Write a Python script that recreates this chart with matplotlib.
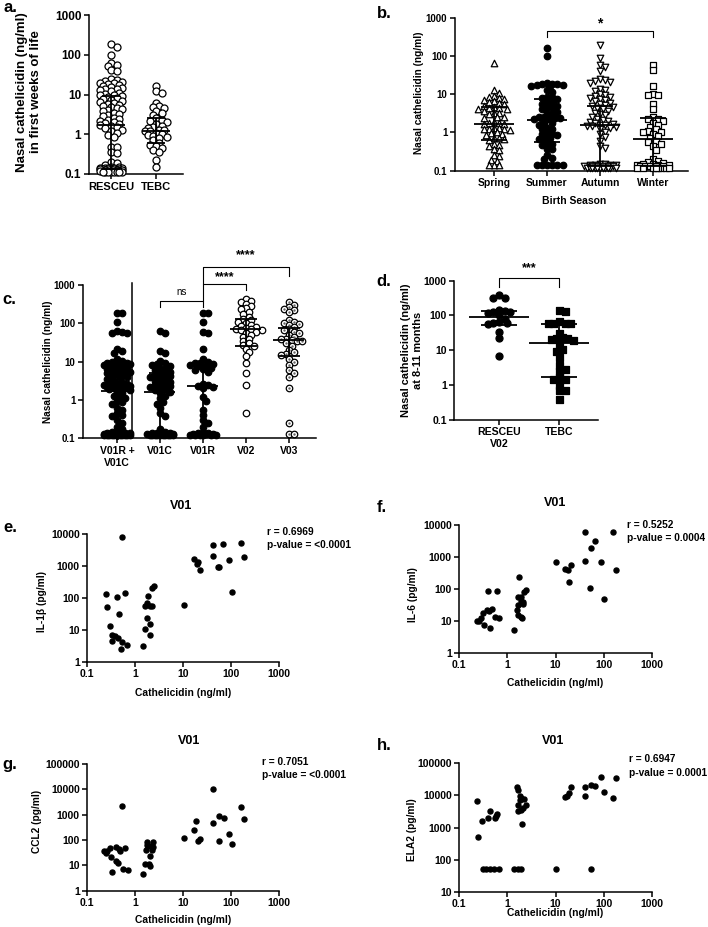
import matplotlib
matplotlib.use('Agg')
import matplotlib.pyplot as plt
from matplotlib.ticker import NullLocator
import numpy as np

plt.rcParams['font.family'] = ['Liberation Sans', 'DejaVu Sans']
plt.rcParams['font.weight'] = 'bold'
plt.rcParams['axes.linewidth'] = 1.1

# ---- data ----
# a. first weeks of life
a_groups = ['RESCEU', 'TEBC']
a_resceu = [183, 160, 100, 63, 55, 52, 41, 40,
            24, 23, 22, 21, 20, 19, 18, 17, 16, 15.5, 15, 14, 13.5, 13, 12, 11, 10.5, 10,
            9.5, 9, 8.5, 8, 7.5, 7.2, 7, 6.5, 6, 5.8, 5.5, 5, 4.8, 4.5, 4.2, 4, 3.8, 3.5,
            3.3, 3, 2.8, 2.6, 2.4, 2.3, 2.2, 2.0, 1.9, 1.8, 1.7, 1.6, 1.5, 1.4, 1.3, 1.2, 1.1,
            0.98, 0.87, 0.49, 0.48, 0.35, 0.34, 0.2, 0.19, 0.17,
            0.15, 0.15, 0.145, 0.14, 0.14, 0.14, 0.14, 0.135, 0.135, 0.13, 0.13, 0.13, 0.13,
            0.13, 0.125, 0.125, 0.125, 0.12, 0.12, 0.12, 0.12, 0.12, 0.12, 0.12, 0.115, 0.115,
            0.115, 0.115, 0.11, 0.11, 0.11, 0.11]
a_tebc = [16.5, 12.5, 11, 6, 5, 4.8, 4.5, 3.9, 3.5, 3.1, 2.5, 2.3, 2.1, 2.0, 1.8, 1.6, 1.5,
          1.4, 1.3, 1.25, 1.2, 1.2, 1.1, 1.0, 0.95, 0.9, 0.85, 0.8, 0.7, 0.6, 0.55, 0.5,
          0.45, 0.4, 0.35, 0.22, 0.15]
a_median = [1.74, 1.2]
a_q1 = [0.13, 0.6]
a_q3 = [9.0, 2.6]

# b. birth season
b_groups = ['Spring', 'Summer', 'Autumn', 'Winter']
spring = [64, 12.5, 11, 9.2, 8.6, 8.0, 7.4, 7.0, 6.5, 6.2, 5.8, 5.4, 5.0, 4.6, 4.4, 4.3, 4.2,
          4.0, 3.6, 3.3, 3.2, 3.0, 2.6, 2.5, 2.4, 1.9, 1.8, 1.8, 1.7, 1.65, 1.3, 1.3, 1.25,
          1.2, 1.2, 1.15, 1.0, 0.95, 0.9, 0.85, 0.7, 0.7, 0.68, 0.65, 0.5, 0.48, 0.45, 0.37,
          0.35, 0.25, 0.24, 0.19, 0.18, 0.14, 0.14, 0.14]
summer = [158, 100, 20, 19, 18.5, 18, 17.5, 17, 16.5, 16, 12.5, 11.5, 8.5, 8.2, 8.0, 7.5, 6.2,
          6.0, 5.6, 4.8, 4.5, 4.3, 4.0, 3.5, 3.3, 3.1, 2.6, 2.5, 2.45, 2.4, 2.35, 2.3, 2.25,
          2.2, 1.8, 1.7, 1.6, 1.3, 1.25, 1.2, 0.95, 0.92, 0.9, 0.85, 0.72, 0.7, 0.68, 0.53,
          0.5, 0.48, 0.38, 0.36, 0.26, 0.21, 0.2, 0.14, 0.14, 0.14, 0.14, 0.14, 0.14]
autumn = [193, 86, 58, 50, 41, 25, 23, 22, 21, 20, 14, 13, 12, 10, 9.5, 9, 8.5, 8, 7.5, 7, 6.5,
          6, 5.5, 5.2, 5, 4.7, 4.3, 4, 3.6, 3.3, 3, 2.8, 2.5, 2.3, 2.1, 2.0, 1.9, 1.8, 1.7,
          1.6, 1.55, 1.5, 1.45, 1.4, 1.3, 1.2, 1.0, 0.9, 0.75, 0.6, 0.45, 0.4, 0.15, 0.15,
          0.14, 0.14, 0.14, 0.14, 0.13, 0.13, 0.13, 0.13, 0.13, 0.13, 0.12, 0.12, 0.12, 0.12,
          0.12, 0.12, 0.12, 0.12, 0.12, 0.12, 0.12]
winter = [58, 42, 16, 10, 9.8, 9.5, 5.5, 4.0, 2.5, 2.3, 2.2, 2.0, 1.8, 1.6, 1.4, 1.2, 1.1,
          1.05, 1.0, 0.9, 0.8, 0.7, 0.6, 0.55, 0.5, 0.45, 0.35, 0.2, 0.18, 0.17, 0.16, 0.15,
          0.15, 0.14, 0.14, 0.14, 0.13, 0.13, 0.13, 0.13, 0.13, 0.13, 0.12, 0.12, 0.12, 0.12,
          0.12, 0.12, 0.12, 0.12]
b_median = [1.63, 2.1, 1.55, 0.66]
b_q1 = [0.65, 0.55, 0.13, 0.13]
b_q3 = [4.5, 7.5, 5.0, 2.35]

# c. visits
c_groups = ['V01R +\nV01C', 'V01C', 'V01R', 'V02', 'V03']
v01c = [62, 55, 19.5, 17, 10.3, 9, 8.5, 8, 7.5, 7, 6.5, 6, 5.5, 5, 4.7, 4.5, 4.2, 4, 3.7, 3.5,
        3.2, 3, 2.8, 2.6, 2.5, 2.3, 2.2, 2, 1.9, 1.8, 1.6, 1.5, 1.3, 1.1, 0.9, 0.8, 0.6, 0.45,
        0.38, 0.17, 0.15, 0.14, 0.14, 0.14, 0.13, 0.13, 0.13, 0.13, 0.13, 0.12, 0.12, 0.12,
        0.12, 0.12, 0.12, 0.12, 0.12, 0.12, 0.12]
v01r = [190, 182, 108, 59, 55, 21, 12, 10, 9.5, 9, 8.5, 8, 8, 7.5, 7, 6.5, 6, 5.5, 2.6, 2.4,
        2.3, 2.2, 2.0, 1.2, 0.95, 0.55, 0.4, 0.3, 0.25, 0.2, 0.15, 0.14, 0.14, 0.13, 0.13,
        0.13, 0.12, 0.12, 0.12, 0.12, 0.12, 0.12]
v02 = [420, 380, 350, 320, 280, 250, 230, 200, 170, 150, 130, 120, 110, 100, 90, 85, 80, 75,
       72, 70, 68, 65, 60, 55, 50, 45, 40, 35, 30, 27, 25, 22, 18, 14, 9.5, 5, 2.5, 0.45]
v03 = [350, 300, 260, 240, 220, 200, 120, 110, 100, 95, 90, 80, 70, 65, 60, 55, 50, 45, 40,
       38, 36, 35, 34, 30, 25, 20, 18, 16, 15, 12, 10, 8, 6, 5, 4, 2, 0.25, 0.13, 0.13]
c_median = [1.75, 1.58, 2.3, 71, 36.6]
c_q1 = [0.13, 0.13, 0.14, 25, 14.3]
c_q3 = [7.7, 5.0, 8.1, 130, 75]

# d. 8-11 months
d_groups = ['RESCEU\nV02', 'TEBC']
d_resceu = [387, 324, 324, 140, 130, 122, 122, 120, 100, 80, 63, 60, 60, 57, 34, 22, 6.8]
d_tebc = [143, 137, 70, 62, 62, 62, 60, 32, 24, 22, 22, 21, 20, 14, 10.5, 9.5, 6.2, 3.7,
          2.9, 2.6, 1.7, 1.5, 1.5, 1.0, 0.7, 0.7, 0.39]
d_median = [92, 15.7]
d_q1 = [54, 1.7]
d_q3 = [134, 57]

# e-h. V01 correlations with cathelicidin
e_x = [0.54, 0.24, 0.26, 0.62, 0.41, 0.45, 0.30, 0.32, 0.38, 0.43, 0.32, 0.54, 0.68, 0.50,
       1.42, 1.60, 1.72, 1.98, 1.98, 1.56, 1.75, 1.86, 2.0, 2.2, 2.2, 2.4, 10.5, 16.7, 18.9,
       20.5, 21.9, 41.6, 41, 55, 68, 91, 104, 158, 185, 53]
e_y = [8250, 133, 52, 144, 110, 31, 13.3, 6.8, 6.2, 5.5, 4.3, 4.0, 3.3, 2.55, 3.0, 10.3, 23.7,
       15, 7, 57, 68, 115, 57, 57, 205, 237, 59, 1700, 1150, 1360, 750, 4630, 2000, 950,
       4850, 1580, 155, 5200, 1900, 930]
f_x = [0.237, 0.256, 0.28, 0.306, 0.32, 0.39, 0.37, 0.42, 0.48, 0.44, 0.54, 0.6, 0.67, 1.39,
       1.58, 1.63, 1.68, 1.77, 1.68, 1.9, 1.9, 2.05, 1.92, 2.1, 2.1, 2.2, 2.4, 10.1, 16, 18.4,
       19.4, 21.3, 40.5, 41, 53.6, 67, 53, 88.5, 101, 158, 182]
f_y = [10.1, 10, 12.2, 17.5, 7.2, 87.6, 21.7, 20.5, 22.6, 5.8, 13.4, 87.6, 12.0, 5.0, 21, 54,
       15, 240, 31, 57, 13, 12.3, 42, 40, 33, 81, 92, 677, 430, 390, 160, 570, 6200, 740,
       1950, 3150, 104, 690, 48, 6200, 380]
g_x = [0.226, 0.245, 0.26, 0.296, 0.31, 0.326, 0.4, 0.45, 0.49, 0.4, 0.43, 0.53, 0.55, 0.62,
       0.69, 1.42, 1.56, 1.64, 1.75, 1.78, 1.96, 2.0, 2.0, 2.1, 2.2, 2.3, 2.3, 1.85, 10.5,
       16.7, 18.4, 19.9, 21.9, 42, 42, 55, 56, 69, 91, 104, 160, 185]
g_y = [37.6, 31, 37, 46, 21, 5.4, 54, 42, 37, 15, 12, 2240, 6.9, 49, 6.5, 4.5, 11.6, 41, 63,
       80, 11, 9.3, 23, 56, 40, 51, 85, 59, 118, 237, 570, 87, 107, 10400, 475, 87, 850,
       750, 166, 67, 1900, 685]
h_x = [0.237, 0.25, 0.29, 0.306, 0.36, 0.40, 0.44, 0.43, 0.52, 0.68, 0.54, 0.60, 0.57, 1.39,
       1.63, 1.92, 1.58, 1.68, 1.63, 1.70, 1.80, 1.80, 1.92, 1.92, 2.05, 2.1, 2.2, 2.4, 10.1,
       16, 17.5, 19, 21, 40.5, 41, 53.6, 53.6, 67, 88.5, 101, 158, 182]
h_y = [6700, 520, 1550, 50, 50, 1980, 3350, 50, 50, 50, 1980, 2600, 2240, 50, 50, 50, 18700,
       14400, 3240, 5000, 7200, 9800, 8500, 3400, 1260, 4000, 7700, 5200, 50, 8700, 9400,
       11600, 18700, 18300, 9400, 21600, 50, 19200, 36600, 12800, 8100, 35700]
stats_r = ['0.6969', '0.5252', '0.7051', '0.6947']
stats_p = ['<0.0001', '0.0004', '<0.0001', '0.0001']

W, H = 708, 927
fig = plt.figure(figsize=(W / 100, H / 100), dpi=100)


def box(x0, y0, x1, y1):
    return [x0 / W, 1 - y1 / H, (x1 - x0) / W, (y1 - y0) / H]


def ftext(x, y, s, **kw):
    fig.text(x / W, 1 - y / H, s, **kw)


def log_axis(ax, ticks, fs, xlog=False):
    ax.set_yscale('log')
    if xlog:
        ax.set_xscale('log')
        ax.set_xticks(ticks[0])
        ax.set_xticklabels([f'{t:g}' for t in ticks[0]])
        ax.xaxis.set_minor_locator(NullLocator())
        ticks = ticks[1]
    ax.set_yticks(ticks)
    ax.set_yticklabels([f'{t:g}' for t in ticks])
    ax.set_ylim(ticks[0], ticks[-1])
    ax.yaxis.set_minor_locator(NullLocator())
    for s in ['top', 'right']:
        ax.spines[s].set_visible(False)
    ax.tick_params(width=1.1, length=3.5, labelsize=fs, pad=2)


def swarm(ax, pos, vals, diam, half, gap=0.72):
    # beeswarm in pixel space; markers may overlap a bit (gap < 1), overflow
    # spreads evenly inside half-width
    unit = ax.transData.transform((1, 1))[0] - ax.transData.transform((0, 1))[0]
    step = diam * 0.4
    offs = [0.0]
    k = 1
    while k * step <= half:
        offs += [k * step, -k * step]
        k += 1
    placed, xs = [], []
    for v in vals:
        y = ax.transData.transform((pos, v))[1]
        near = [(px, py) for px, py in placed if abs(py - y) < diam]
        best, best_d, bo = None, -1, 0.0
        for o in offs:
            d = min([np.hypot(o - px, y - py) for px, py in near], default=1e9)
            if d >= diam * gap:
                best = o
                break
            if d > best_d:
                best_d, bo = d, o
        if best is None:
            best = bo
        placed.append((best, y))
        xs.append(pos + best / unit)
    return xs


def dots(ax, pos, vals, marker='o', filled=False, diam=7, half=14, centre=False, gap=0.72):
    ys = sorted(vals, reverse=True)
    xs = swarm(ax, pos, ys, diam, half, gap)
    ax.scatter(xs, ys, s=(diam * 0.72) ** 2, marker=marker,
               facecolor='k' if filled else 'white', edgecolor='k',
               linewidths=0.9, zorder=3, clip_on=False)
    if centre:
        ax.scatter(xs, ys, s=3, color='#666666', zorder=3.5, clip_on=False, linewidths=0)


def med_iqr(ax, pos, med, q1, q3, mw=0.36, cw=0.22):
    kw = dict(color='k', lw=1.3, zorder=5, solid_capstyle='butt')
    ax.plot([pos - mw, pos + mw], [med, med], **kw)
    ax.plot([pos, pos], [q1, q3], **kw)
    for q in (q1, q3):
        ax.plot([pos - cw, pos + cw], [q, q], **kw)


def bracket(ax, x0, x1, y, yl, yr, label, ty, fs, weight='bold'):
    ax.plot([x0, x0, x1, x1], [yl, y, y, yr], color='k', lw=0.8, clip_on=False)
    ax.text((x0 + x1) / 2, ty, label, ha='center', va='center', fontsize=fs,
            fontweight=weight)


decades4 = [0.1, 1, 10, 100, 1000]

# ---- a ----
ax = fig.add_axes(box(89, 15, 183, 174))
log_axis(ax, decades4, 8.5)
ax.set_xlim(-0.489, 1.6)
ax.set_xticks([0, 1])
ax.set_xticklabels(a_groups, fontsize=8)
for i, vals in enumerate([a_resceu, a_tebc]):
    dots(ax, i, vals, diam=7, half=12, gap=0.6)
    med_iqr(ax, i, a_median[i], a_q1[i], a_q3[i], mw=0.32, cw=0.2)
ftext(29, 92, 'Nasal cathelicidin (ng/ml)\nin first weeks of life', rotation=90,
      ha='center', va='center', fontsize=9.5, linespacing=1.2)
ftext(3, 8, 'a.', fontsize=12, ha='left', va='center')

# ---- b ----
ax = fig.add_axes(box(455, 17.7, 688, 170.7))
log_axis(ax, decades4, 7)
ax.set_xlim(-0.736, 3.66)
ax.set_xticks(range(4))
ax.set_xticklabels(b_groups, fontsize=7.5)
b_style = [('^', False), ('o', True), ('v', False), ('s', False)]
for i, vals in enumerate([spring, summer, autumn, winter]):
    dots(ax, i, vals, marker=b_style[i][0], filled=b_style[i][1], diam=6.5, half=16)
    med_iqr(ax, i, b_median[i], b_q1[i], b_q3[i], mw=0.38, cw=0.25)
bracket(ax, 1, 3, 450, 310, 310, '*', 720, 10)
ftext(574, 201, 'Birth Season', ha='center', va='center', fontsize=7.5)
ftext(419, 93, 'Nasal cathelicidin (ng/ml)', rotation=90, ha='center', va='center',
      fontsize=7.3)
ftext(377, 13, 'b.', fontsize=12, ha='left', va='center')

# ---- c ----
ax = fig.add_axes(box(83, 285, 316, 438.3))
log_axis(ax, decades4, 7)
ax.set_xlim(-0.79, 4.63)
ax.set_xticks(range(5))
ax.set_xticklabels(c_groups, fontsize=7.5)
c_sets = [v01c + v01r, v01c, v01r, v02, v03]
c_style = [(True, False, 13), (True, False, 13), (True, False, 14), (False, False, 17),
           (False, True, 17)]
for i, vals in enumerate(c_sets):
    dots(ax, i, vals, filled=c_style[i][0], centre=c_style[i][1], diam=6.5,
         half=c_style[i][2], gap=0.62)
    med_iqr(ax, i, c_median[i], c_q1[i], c_q3[i], mw=0.36, cw=0.26)
ax.plot([0.35, 0.35], [0.1, 1130], color='k', lw=1.1, clip_on=False)
bracket(ax, 1, 2, 390, 270, 270, 'ns', 645, 7, weight='normal')
bracket(ax, 2, 3, 1060, 390, 740, '****', 1590, 9)
bracket(ax, 2, 4, 2950, 1060, 1720, '****', 6100, 9)
ftext(48, 362, 'Nasal cathelicidin (ng/ml)', rotation=90, ha='center', va='center',
      fontsize=7.3)
ftext(2, 299, 'c.', fontsize=12, ha='left', va='center')

# ---- d ----
ax = fig.add_axes(box(454.3, 280.7, 598, 419.7))
log_axis(ax, decades4, 7.5)
ax.set_xlim(-0.745, 1.65)
ax.set_xticks([0, 1])
ax.set_xticklabels(d_groups, fontsize=7.6)
dots(ax, 0, d_resceu, filled=True, diam=7, half=14)
dots(ax, 1, d_tebc, marker='s', filled=True, diam=7, half=18)
for i in range(2):
    med_iqr(ax, i, d_median[i], d_q1[i], d_q3[i], mw=0.5, cw=0.3)
bracket(ax, 0, 1, 1175, 650, 650, '***', 2320, 9)
ftext(412, 350, 'Nasal cathelicidin (ng/ml)\nat 8-11 months', rotation=90,
      ha='center', va='center', fontsize=7.9, linespacing=1.2)
ftext(376, 282, 'd.', fontsize=12, ha='left', va='center')

# ---- e-h ----
xdec = [0.1, 1, 10, 100, 1000]
scat = [
    ('e.', box(87.3, 534, 279.3, 661.7), e_x, e_y, [1, 10, 100, 1000, 10000], 'IL-1β (pg/ml)',
     (181, 506), (267, 532, 545), (42, 601), 693, (3, 528)),
    ('f.', box(459.3, 525, 651.7, 652.7), f_x, f_y, [1, 10, 100, 1000, 10000], 'IL-6 (pg/ml)',
     (555, 503), (627, 525, 538), (413, 595), 683, (377, 508)),
    ('g.', box(87.3, 763.7, 279.3, 890.7), g_x, g_y, [1, 10, 100, 1000, 10000, 100000],
     'CCL2 (pg/ml)', (189, 741), (262, 762, 775), (37, 821), 920, (2, 765)),
    ('h.', box(459.3, 763.3, 651.7, 891.7), h_x, h_y, [10, 100, 1000, 10000, 100000],
     'ELA2 (pg/ml)', (553, 741), (629, 759, 773), (412, 830), 913, (377, 745)),
]
for k, (lab, rect, xs, ys, yt, ylab, tpos, apos, ypos, xly, lpos) in enumerate(scat):
    ax = fig.add_axes(rect)
    log_axis(ax, (xdec, yt), 7.5, xlog=True)
    ax.set_xlim(0.1, 1000)
    ax.scatter(xs, ys, s=13, color='k', zorder=3, clip_on=False)
    ftext(tpos[0], tpos[1], 'V01', ha='center', va='center', fontsize=9)
    ftext(apos[0], apos[1], f'r = {stats_r[k]}', ha='left', va='center', fontsize=7.3)
    ftext(apos[0], apos[2], f'p-value = {stats_p[k]}', ha='left', va='center', fontsize=7.3)
    ftext(ypos[0], ypos[1], ylab, rotation=90, ha='center', va='center', fontsize=7.3)
    ftext((rect[0] + rect[2] / 2) * W, xly, 'Cathelicidin (ng/ml)', ha='center', va='center',
          fontsize=7.4)
    ftext(lpos[0], lpos[1], lab, fontsize=12, ha='left', va='center')

fig.savefig('out.png', dpi=100)
